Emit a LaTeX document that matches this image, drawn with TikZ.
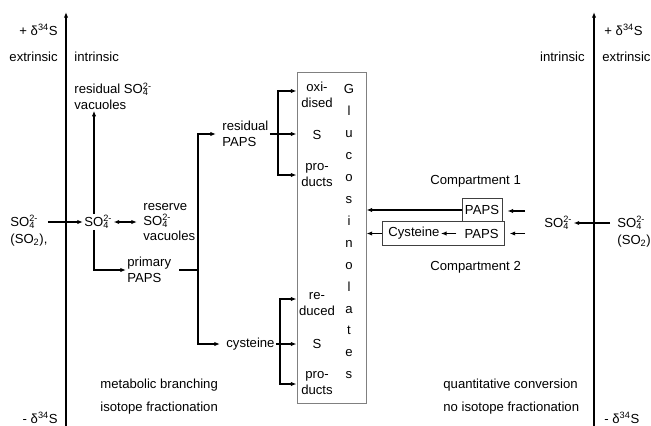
\documentclass[tikz,border=0pt]{standalone}
\usepackage{fontspec}
\setmainfont{Liberation Sans}
\usetikzlibrary{arrows.meta,fit}
\newcommand{\sofour}{SO\rlap{\textsubscript{4}}\textsuperscript{2-}}
\newcommand{\sotwo}{SO\textsubscript{2}}
\newcommand{\dsul}{δ\textsuperscript{34}S}
\tikzset{
  lbl/.style={inner sep=1pt, align=left, font=\fontsize{11.2}{13.2}\selectfont},
  ctr/.style={lbl, align=center},
  arr/.style={-{Latex[length=1.7mm,width=1.3mm]}, line width=1.1pt},
  darr/.style={{Latex[length=1.7mm,width=1.3mm]}-{Latex[length=1.7mm,width=1.3mm]}, line width=1.1pt},
  ln/.style={line width=1.1pt},
  gbox/.style={draw=gray, line width=0.8pt},
  pbox/.style={draw=black!75, line width=0.7pt}
}
\begin{document}
\begin{tikzpicture}[x=0.03cm,y=-0.03cm]
\useasboundingbox (0,0) rectangle (651,426);
% axes
\coordinate (laxB) at (66,426);
\coordinate (laxT) at (66,12);
\coordinate (raxB) at (594,426);
\coordinate (raxT) at (594,12);
\draw[arr] (laxB) -- (laxT);
\draw[arr] (raxB) -- (raxT);
% axis labels
\node[lbl, anchor=east] (lplus) at (59,30) {+ \dsul};
\node[lbl, anchor=east] (lextr) at (59,57) {extrinsic};
\node[lbl, anchor=west] (lintr) at (73,57) {intrinsic};
\node[lbl, anchor=base east] (lminus) at (59,423) {- \dsul};
\node[lbl, anchor=west] (rplus) at (603,30) {+ \dsul};
\node[lbl, anchor=west] (rextr) at (601,57) {extrinsic};
\node[lbl, anchor=east] (rintr) at (586,57) {intrinsic};
\node[lbl, anchor=base west] (rminus) at (603,423) {- \dsul};
% left pathway
\node[lbl, anchor=west] (so4out) at (9,222) {\sofour};
\node[lbl, anchor=west] (so2out) at (9,240) {(\sotwo),};
\node[lbl, anchor=west] (so4in) at (83,222) {\sofour};
\node[lbl, anchor=west] (reserve) at (142,222) {reserve\\\sofour\\vacuoles};
\node[lbl, anchor=west] (ressul) at (73,96) {residual \sofour\\vacuoles};
\node[lbl, anchor=west] (primary) at (126,270) {primary\\PAPS};
\node[lbl, anchor=west] (respaps) at (221,134) {residual\\PAPS};
\node[lbl, anchor=west] (cyst) at (225,344) {cysteine};
\coordinate (trunk) at (94,0);
\coordinate (split) at (198,0);
\draw[arr, shorten <=2.5mm] (so4out.east) -- (so4in.west);
\draw[darr, shorten >=1.5mm] (so4in.east) -- (reserve.west);
\draw[arr] (so4in.north -| trunk) -- (ressul.south -| trunk);
\draw[arr] (so4in.south -| trunk) |- (primary.west);
\draw[ln, shorten <=2mm] (primary.east) -- (primary.east -| split);
\draw[arr, shorten >=1.5mm] (primary.east -| split) |- (respaps.west);
\draw[arr, shorten >=1.5mm] (primary.east -| split) |- (cyst.west);
% glucosinolates box
\node[gbox, minimum width=2.07cm, minimum height=9.93cm, inner sep=0pt] (glu) at (331.5,237.5) {};
\foreach \ch [count=\i from 0] in {G,l,u,c,o,s,i,n,o,l,a,t,e,s}
  \node[lbl, anchor=base] (g\i) at (349,{94+21.9*\i}) {\ch};
\node[ctr] (oxtop) at (317,95) {oxi-\\dised};
\node[ctr] (stop) at (317,135) {S};
\node[ctr] (protop) at (317,175) {pro-\\ducts};
\node[ctr] (redbot) at (317,304) {re-\\duced};
\node[ctr] (sbot) at (317,344) {S};
\node[ctr] (probot) at (317,383) {pro-\\ducts};
\coordinate (ua) at (278,91);
\coordinate (ub) at (278,175);
\coordinate (la) at (280,299);
\coordinate (lb) at (280,384);
\draw[darr] (ua -| glu.west) -- (ua) -- (ub) -- (ub -| glu.west);
\draw[arr] (respaps.east) -- (respaps.east -| glu.west);
\draw[darr] (la -| glu.west) -- (la) -- (lb) -- (lb -| glu.west);
\draw[arr] (cyst.east) -- (cyst.east -| glu.west);
% right pathway
\node[lbl, anchor=west] (comp1) at (429,181) {Compartment 1};
\node[lbl, anchor=west] (comp2) at (429,267) {Compartment 2};
\node[lbl, pbox, inner sep=2.5pt, minimum height=0.69cm] (paps1) at (482,210) {PAPS};
\node[lbl, anchor=west] (cys2) at (387,233.5) {Cysteine};
\node[lbl, anchor=east] (paps2) at (500,233.5) {PAPS};
\node[pbox, fit=(cys2)(paps2), inner sep=3.5pt] (cbox) {};
\draw[arr, shorten <=2mm] (paps2.west) -- (cys2.east);
\draw[arr] (paps1.west) -- (paps1.west -| glu.east);
\draw[arr] (cbox.west) -- (cbox.west -| glu.east);
\coordinate (feed1) at (525,211);
\coordinate (feed2) at (525,233.5);
\draw[arr, shorten >=1.5mm] (feed1) -- (feed1 -| paps1.east);
\draw[arr, shorten >=1.5mm] (feed2) -- (feed2 -| cbox.east);
\node[lbl, anchor=west] (so4r) at (543,223) {\sofour};
\node[lbl, anchor=west] (so4rr) at (616,223) {\sofour};
\node[lbl, anchor=west] (so2rr) at (616,241) {(\sotwo),};
\draw[arr, shorten <=1.8mm] (so4rr.west) -- (so4r.east);
% bottom notes
\node[lbl, anchor=west] (metab) at (99,385) {metabolic branching};
\node[lbl, anchor=west] (isof) at (99,408) {isotope fractionation};
\node[lbl, anchor=west] (quant) at (442,385) {quantitative conversion};
\node[lbl, anchor=west] (noiso) at (442,408) {no isotope fractionation};
\end{tikzpicture}
\end{document}
